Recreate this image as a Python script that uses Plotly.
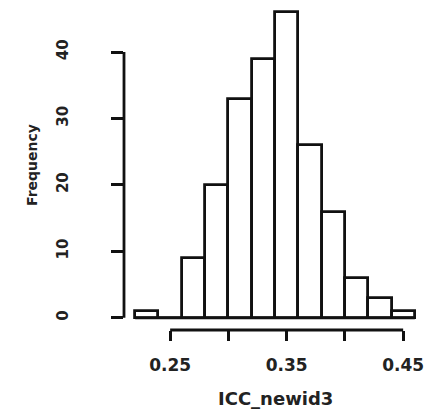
import plotly.graph_objects as go

bin_edges = [0.22, 0.24, 0.26, 0.28, 0.30, 0.32, 0.34, 0.36, 0.38, 0.40, 0.42, 0.44, 0.46]
counts = [1, 0, 9, 20, 33, 39, 46, 26, 16, 6, 3, 1]
x_tick_vals = [0.25, 0.30, 0.35, 0.40, 0.45]
x_tick_text = ["0.25", "", "0.35", "", "0.45"]
y_tick_vals = [0, 10, 20, 30, 40]
y_tick_text = ["0", "10", "20", "30", "40"]
x_title = "ICC_newid3"
y_title = "Frequency"

centers = [(a + b) / 2 for a, b in zip(bin_edges[:-1], bin_edges[1:])]
widths = [b - a for a, b in zip(bin_edges[:-1], bin_edges[1:])]

ink = "#111111"
txt = "#222222"
lw = 2.8

fig = go.Figure()
# baseline (R draws zero-height rects as a line)
fig.add_trace(go.Scatter(x=[bin_edges[0], bin_edges[-1]], y=[0, 0], mode="lines",
                         line=dict(color=ink, width=lw), hoverinfo="skip", showlegend=False))
fig.add_trace(go.Bar(x=centers, y=counts, width=widths,
                     marker=dict(color="white", line=dict(color=ink, width=lw)),
                     showlegend=False))

xr0 = bin_edges[0] - 0.04 * (bin_edges[-1] - bin_edges[0])
xr1 = bin_edges[-1] + 0.04 * (bin_edges[-1] - bin_edges[0])
ymax = max(counts)
yr0 = -0.04 * ymax
yr1 = ymax * 1.04

fig.update_layout(
    width=429, height=410,
    margin=dict(l=124, r=3, t=0, b=80),
    paper_bgcolor="white", plot_bgcolor="white",
    font=dict(family="DejaVu Sans", color=txt),
    bargap=0,
    xaxis=dict(range=[xr0, xr1], showgrid=False, zeroline=False, showline=False,
               tickvals=x_tick_vals, ticktext=x_tick_text, ticks="outside",
               ticklen=10, tickwidth=lw, tickcolor=ink,
               tickfont=dict(size=17, color=txt, weight="bold"), ticklabelstandoff=10),
    yaxis=dict(range=[yr0, yr1], showgrid=False, zeroline=False, showline=False,
               tickvals=y_tick_vals, ticktext=y_tick_text, ticks="outside",
               ticklen=12, tickwidth=lw, tickcolor=ink, tickangle=-90,
               tickfont=dict(size=15, color=txt, weight="bold"), ticklabelstandoff=37),
    shapes=[
        dict(type="line", xref="x", yref="paper", x0=x_tick_vals[0], x1=x_tick_vals[-1],
             y0=0, y1=0, line=dict(color=ink, width=lw)),
        dict(type="line", xref="paper", yref="y", x0=0, x1=0,
             y0=y_tick_vals[0], y1=y_tick_vals[-1], line=dict(color=ink, width=lw)),
    ],
    annotations=[
        dict(text=x_title, xref="paper", yref="paper", x=0.5, y=0, yshift=-68,
             showarrow=False, yanchor="middle", font=dict(size=18, color=txt, weight="bold")),
        dict(text=y_title, xref="paper", yref="paper", x=0, y=0.5, xshift=-92,
             showarrow=False, xanchor="center", textangle=-90,
             font=dict(size=14, color=txt, weight="bold")),
    ],
)

fig.write_html("out.html")
